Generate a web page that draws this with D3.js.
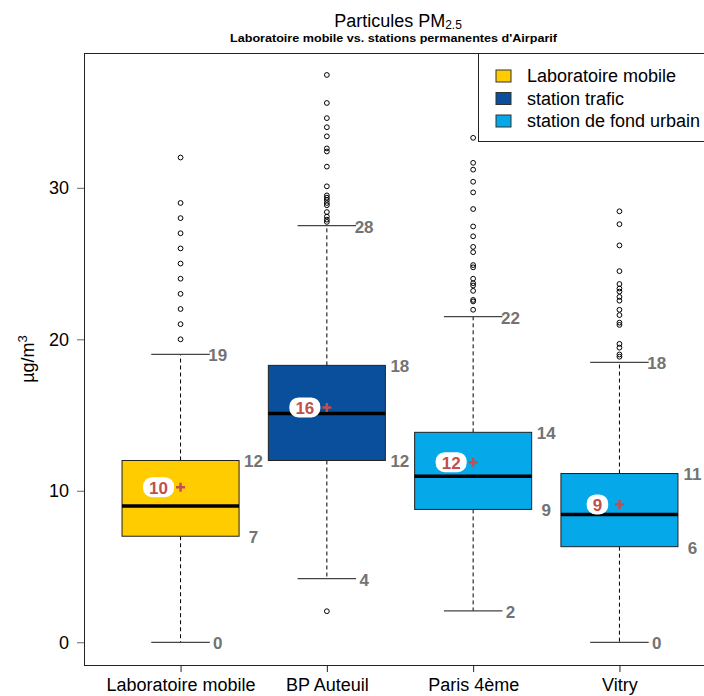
<!DOCTYPE html>
<html>
<head>
<meta charset="utf-8">
<script src="https://cdn.jsdelivr.net/npm/d3@7"></script>
<style>
  body { margin: 0; background: #fff; }
  text { font-family: Arial, "Liberation Sans", sans-serif; }
</style>
</head>
<body>
<div id="vis"></div>
<script>
// stations and their box statistics (µg/m3)
var categories = ["Laboratoire mobile", "BP Auteuil", "Paris 4ème", "Vitry"];
var stationType = [0, 1, 2, 2];
var whiskerLow = [0, 4.2, 2.07, 0];
var q1 = [7, 12, 8.77, 6.31];
var medians = [9, 15.1, 10.96, 8.44];
var q3 = [12, 18.28, 13.86, 11.14];
var whiskerHigh = [19, 27.5, 21.5, 18.48];
var means = [10.24, 15.5, 11.89, 9.1];
var outliers = [
  [32, 29, 28, 27, 26, 25, 24, 23, 22, 21, 20],
  [37.45, 35.6, 34.6, 34.0, 33.4, 32.6, 32.4, 31.4, 30.1, 29.5, 29.35, 29.2, 29.0, 28.85, 28.4, 28.1, 27.9, 27.75, 2.05],
  [33.3, 31.65, 31.2, 30.4, 29.7, 28.6, 27.45, 26.8, 26.1, 25.75, 24.9, 24.75, 24.0, 23.7, 23.55, 23.2, 22.6, 22.5, 21.95],
  [28.45, 27.6, 26.2, 24.5, 23.65, 23.35, 23.15, 22.8, 22.55, 21.95, 21.6, 21.1, 20.95, 19.7, 19.45, 19.0, 18.85]
];
var legendLabels = ["Laboratoire mobile", "station trafic", "station de fond urbain"];
var legendColors = ["#FFCC00", "#0A4F9C", "#05A8E8"];
var yTicks = [0, 10, 20, 30];

var width = 704, height = 696;
var plot = {left: 84, right: 716, top: 53, bottom: 665};

var svg = d3.select("#vis").append("svg")
  .attr("width", width)
  .attr("height", height);

var x = d3.scalePoint()
  .domain(categories)
  .range([plot.left, plot.right])
  .padding(0.66);

var y = d3.scaleLinear()
  .domain([-1.5, 38.9])
  .range([plot.bottom, plot.top]);

var boxW = x.step() * 0.8;
var capHalf = boxW / 4;
var round = function(v) { return String(Math.round(v)); };

// title
var title = svg.append("text")
  .attr("x", (plot.left + plot.right) / 2 - 2)
  .attr("y", 27)
  .attr("text-anchor", "middle")
  .style("font-size", "18px");
title.append("tspan").text("Particules PM");
title.append("tspan").attr("dy", 2).style("font-size", "12px").text("2.5");

// subtitle is a condensed bold face in the original, so stretch it a bit
svg.append("text")
  .attr("x", 230)
  .attr("y", 42)
  .attr("textLength", 327)
  .attr("lengthAdjust", "spacingAndGlyphs")
  .style("font-size", "10.5px")
  .style("font-weight", "bold")
  .text("Laboratoire mobile vs. stations permanentes d'Airparif");

// frame
svg.append("rect")
  .attr("x", plot.left + 0.5)
  .attr("y", plot.top + 0.5)
  .attr("width", plot.right - plot.left)
  .attr("height", plot.bottom - plot.top)
  .attr("fill", "none")
  .attr("stroke", "#222");

// axes
var yAxis = svg.append("g")
  .attr("transform", "translate(" + plot.left + ",0)")
  .call(d3.axisLeft(y).tickValues(yTicks).tickSize(7).tickPadding(8));
yAxis.select(".domain").remove();
yAxis.selectAll("line").attr("stroke", "#666");
yAxis.selectAll("text").style("font-size", "18px").attr("fill", "#000").attr("font-family", null);

var xAxis = svg.append("g")
  .attr("transform", "translate(0," + plot.bottom + ")")
  .call(d3.axisBottom(x).tickSize(7).tickPadding(6));
xAxis.select(".domain").remove();
xAxis.selectAll("line").attr("stroke", "#222");
xAxis.selectAll("text").style("font-size", "18px").attr("fill", "#000").attr("font-family", null);

svg.append("text")
  .attr("transform", "translate(34," + ((plot.top + plot.bottom) / 2) + ") rotate(-90)")
  .attr("text-anchor", "middle")
  .style("font-size", "18px")
  .call(function(t) {
    t.append("tspan").text("µg/m");
    t.append("tspan").attr("dy", -7).style("font-size", "13px").text("3");
  });

// boxes
var boxes = svg.append("g").selectAll("g")
  .data(categories)
  .enter().append("g");

boxes.each(function(c, i) {
  var g = d3.select(this);
  var cx = x(c);

  // dashed whiskers
  g.append("line")
    .attr("x1", cx).attr("x2", cx)
    .attr("y1", y(q3[i])).attr("y2", y(whiskerHigh[i]))
    .attr("stroke", "#000").attr("stroke-dasharray", "4,3");
  g.append("line")
    .attr("x1", cx).attr("x2", cx)
    .attr("y1", y(q1[i])).attr("y2", y(whiskerLow[i]))
    .attr("stroke", "#000").attr("stroke-dasharray", "4,3");

  // caps
  [whiskerLow[i], whiskerHigh[i]].forEach(function(v) {
    g.append("line")
      .attr("x1", cx - capHalf).attr("x2", cx + capHalf)
      .attr("y1", y(v)).attr("y2", y(v))
      .attr("stroke", "#444").attr("stroke-width", 1.3);
    g.append("text")
      .attr("x", cx + capHalf + 8)
      .attr("y", y(v) + 1)
      .attr("dy", "0.35em")
      .attr("text-anchor", "middle")
      .attr("fill", "#737373")
      .style("font-size", "17px").style("font-weight", "bold")
      .text(round(v));
  });

  // box
  g.append("rect")
    .attr("x", cx - boxW / 2)
    .attr("y", y(q3[i]))
    .attr("width", boxW)
    .attr("height", y(q1[i]) - y(q3[i]))
    .attr("fill", legendColors[stationType[i]])
    .attr("stroke", "#222");
  g.append("line")
    .attr("x1", cx - boxW / 2).attr("x2", cx + boxW / 2)
    .attr("y1", y(medians[i])).attr("y2", y(medians[i]))
    .attr("stroke", "#000").attr("stroke-width", 3.5);

  [q1[i], q3[i]].forEach(function(v) {
    g.append("text")
      .attr("x", cx + boxW / 2 + 14.5)
      .attr("y", y(v) + 1)
      .attr("dy", "0.35em")
      .attr("text-anchor", "middle")
      .attr("fill", "#737373")
      .style("font-size", "17px").style("font-weight", "bold")
      .text(round(v));
  });

  // outliers
  g.selectAll("circle")
    .data(outliers[i])
    .enter().append("circle")
    .attr("cx", cx)
    .attr("cy", function(d) { return y(d); })
    .attr("r", 2.4)
    .attr("fill", "none")
    .attr("stroke", "#000")
    .attr("stroke-width", 1);

  // mean marker and label
  var my = y(means[i]);
  g.append("path")
    .attr("d", "M" + (cx - 4.5) + "," + my + "h9M" + cx + "," + (my - 4.5) + "v9")
    .attr("stroke", "#c0504d").attr("stroke-width", 2.5);
  var label = round(means[i]);
  var pw = label.length * 9.5 + 12;
  g.append("rect")
    .attr("x", cx - 22 - pw / 2)
    .attr("y", my - 10)
    .attr("width", pw)
    .attr("height", 20)
    .attr("rx", 9)
    .attr("fill", "#fff");
  g.append("text")
    .attr("x", cx - 22)
    .attr("y", my + 1)
    .attr("dy", "0.35em")
    .attr("text-anchor", "middle")
    .attr("fill", "#c0504d")
    .style("font-size", "17px").style("font-weight", "bold")
    .text(label);
});

// legend
var legend = svg.append("g");
legend.append("rect")
  .attr("x", 478.5).attr("y", plot.top + 0.5)
  .attr("width", 260).attr("height", 88)
  .attr("fill", "#fff").attr("stroke", "#222");
legendLabels.forEach(function(l, i) {
  var ly = 76 + i * 22.5;
  legend.append("rect")
    .attr("x", 496).attr("y", ly - 6)
    .attr("width", 15).attr("height", 12)
    .attr("fill", legendColors[i]).attr("stroke", "#333");
  legend.append("text")
    .attr("x", 527).attr("y", ly)
    .attr("dy", "0.35em")
    .style("font-size", "18px")
    .text(l);
});
</script>
</body>
</html>
